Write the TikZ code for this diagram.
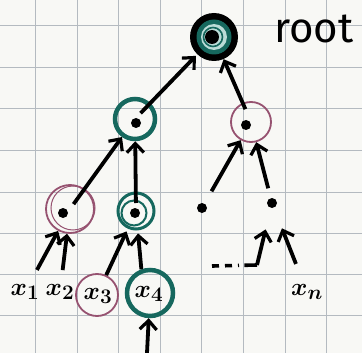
\documentclass[tikz,border=0pt]{standalone}
\usepackage{fontspec}
\newfontfamily\handfont{Fira Sans}
\usetikzlibrary{arrows.meta,calc}
\definecolor{paper}{RGB}{248,248,245}
\definecolor{gridc}{RGB}{180,186,192}
\definecolor{tealc}{RGB}{22,104,94}
\definecolor{ltealc}{RGB}{120,185,175}
\definecolor{mauve}{RGB}{150,82,112}
\begin{document}
\begin{tikzpicture}[x=1pt,y=-1pt,
  gridline/.style={draw=gridc,line width=0.9pt},
  arr/.style={draw=black,line width=3.8pt,-{Straight Barb[length=9pt,width=17pt,line width=3.2pt]}},
  seg/.style={draw=black,line width=3.6pt},
  dotn/.style={circle,fill=black,inner sep=0pt,minimum size=10pt},
  lab/.style={inner sep=0pt,font=\fontsize{30}{30}\selectfont\boldmath},
  tealring/.style={circle,draw=tealc,line width=3.5pt,inner sep=0pt},
  mauvering/.style={circle,draw=mauve,line width=1.8pt,inner sep=0pt}]
\useasboundingbox (0,0) rectangle (362,353);
\fill[paper] (0,0) rectangle (362,353);
% grid
\foreach \gx in {35,77,118,160,201,243,285,326}
  \draw[gridline] (\gx,0) -- (\gx,353);
\foreach \gy in {25,67,108,150,192,233,274,315}
  \draw[gridline] (0,\gy) -- (362,\gy);

% root
\node[circle,fill=black,minimum size=48pt,inner sep=0pt] (root) at (214,37) {};
\fill[tealc] (214,37) circle (17.5);
\fill[ltealc!50!white] (214,37) circle (13);
\draw[tealc,line width=1.6pt] (213,37) circle (9.5);
\fill[black] (212,37) circle (7);
\node[font=\handfont\fontsize{42}{42}\selectfont,anchor=base west,inner sep=0pt] (rootlabel) at (274,43) {root};

% second level
\node[tealring,minimum size=40pt,line width=4.5pt] (lc) at (135,119) {};
\node[dotn] at (136,123) {};
\node[mauvering,minimum size=40pt] (rc) at (251,122) {};
\node[dotn] at (246,125) {};

% third level
\node[mauvering,minimum size=48pt] (ml) at (70,209) {};
\draw[mauve,line width=1pt] (73,208) circle (22);
\node[dotn] at (63,213) {};
\node[tealring,minimum size=36pt,line width=3pt] (tl) at (136,211) {};
\draw[tealc,line width=2pt] (134,213) circle (12.5);
\node[dotn] at (135,213) {};
\node[dotn] (d1) at (202,208) {};
\node[dotn] (d2) at (272,203) {};

% leaves / labels
\node[lab] (x1) at (25,292) {$x_1$};
\node[lab] (x2) at (60,292) {$x_2$};
\node[mauvering,minimum size=42pt] (x3c) at (97,295) {};
\node[lab] (x3) at (98,296) {$x_3$};
\node[tealring,minimum size=46pt,line width=4.5pt] (x4c) at (150,293) {};
\node[lab] (x4) at (149,294) {$x_4$};
\node[lab] (xn) at (307,292) {$x_n$};
\coordinate (x4in) at (147,353);
\coordinate (dotsstart) at (212,266);
\coordinate (dotscorner) at (257,265);

% connectors
\draw[arr,shorten >=2pt,shorten <=8pt] (lc.center) -- (root);
\draw[arr,shorten <=14pt] (rc.center) -- (root);
\draw[arr,shorten <=6pt] (ml.center) -- (lc);
\draw[arr,shorten <=8pt] (tl.center) -- (lc);
\draw[arr,shorten <=14pt] (d1) -- (rc);
\draw[arr,shorten <=10pt] (d2) -- (rc);
\draw[arr,shorten <=16pt] (x1) -- (ml);
\draw[arr,shorten <=14pt] (x2) -- (ml);
\draw[arr,shorten >=3pt] (x3c) -- (tl);
\draw[arr,shorten >=3pt] (x4c.110) -- (tl);
\draw[arr] (x4in) -- (x4c);
\draw[seg,dash pattern=on 7pt off 6pt] (dotsstart) -- ($(dotsstart)!0.6!(dotscorner)$);
\draw[seg] ($(dotsstart)!0.72!(dotscorner)$) -- (dotscorner);
\draw[arr,shorten >=22pt] (dotscorner) -- (d2);
\draw[arr,shorten <=22pt,shorten >=22pt] (xn) -- (d2);
\end{tikzpicture}
\end{document}
